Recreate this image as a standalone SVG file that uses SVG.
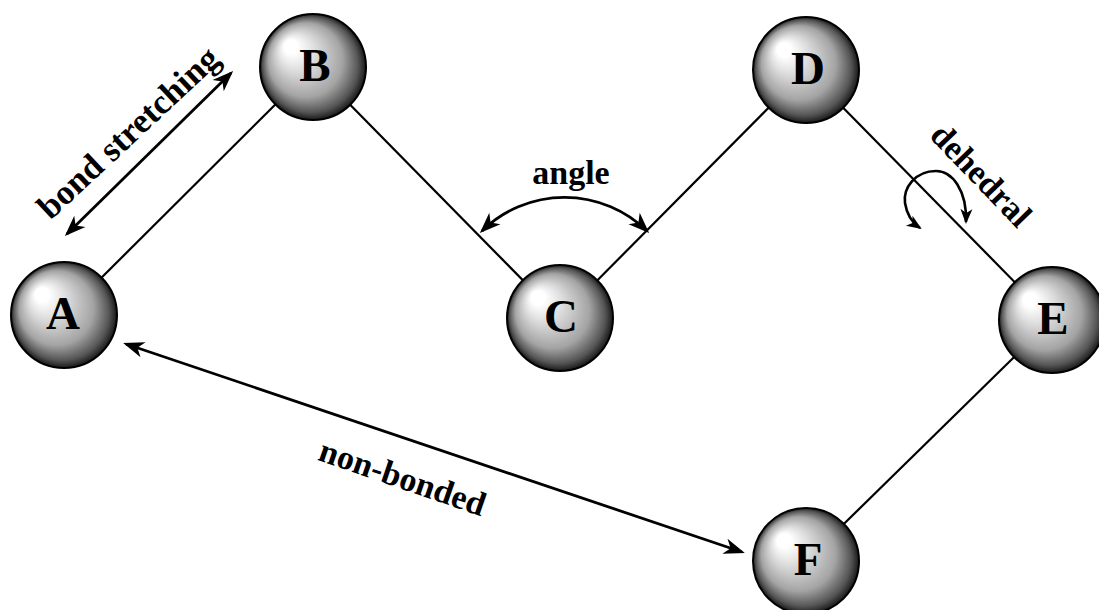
<svg xmlns="http://www.w3.org/2000/svg" width="1099" height="610" viewBox="0 0 1099 610">
<defs>
<radialGradient id="sph" cx="50%" cy="50%" r="50%" fx="26%" fy="28%">
<stop offset="0" stop-color="#ffffff"/>
<stop offset="0.13" stop-color="#ffffff"/>
<stop offset="0.35" stop-color="#dedede"/>
<stop offset="0.7" stop-color="#a4a4a4"/>
<stop offset="0.9" stop-color="#555555"/>
<stop offset="1" stop-color="#181818"/>
</radialGradient>
<marker id="ah" markerUnits="userSpaceOnUse" markerWidth="30" markerHeight="20" viewBox="-20 -10 30 20" refX="0" refY="0" orient="auto-start-reverse">
<path d="M3,0 L-18,-8 L-12,0 L-18,8 Z" fill="#000"/>
</marker>
<marker id="ahs" markerUnits="userSpaceOnUse" markerWidth="24" markerHeight="16" viewBox="-16 -8 24 16" refX="0" refY="0" orient="auto-start-reverse">
<path d="M2,0 L-13,-6 L-9,0 L-13,6 Z" fill="#000"/>
</marker>
</defs>
<style>
.bond{stroke:#000;stroke-width:2.2;fill:none}
.arr{stroke:#000;stroke-width:2.8;fill:none;marker-start:url(#ah);marker-end:url(#ah)}
.arrs{stroke:#000;stroke-width:2.6;fill:none;marker-start:url(#ahs);marker-end:url(#ahs)}
.ball{fill:url(#sph);stroke:#000;stroke-width:2}
.lbl{font-family:"Liberation Serif",serif;font-weight:bold;font-size:47px;text-anchor:middle;fill:#000}
.t{font-family:"Liberation Serif",serif;font-weight:bold;font-size:34px;text-anchor:middle;fill:#000}
</style>
<g id="connectors">
<line class="bond" x1="64" y1="315" x2="313" y2="67"/>
<line class="bond" x1="313" y1="67" x2="560" y2="318"/>
<line class="bond" x1="560" y1="318" x2="806" y2="70"/>
<line class="bond" x1="806" y1="70" x2="1052" y2="320"/>
<line class="bond" x1="1052" y1="320" x2="806" y2="561"/>
<line class="arr" x1="67" y1="234" x2="231" y2="73"/>
<path class="arr" d="M482,231 A118,118 0 0 1 647,231"/>
<line class="arr" x1="126" y1="344" x2="742" y2="552"/>
<path class="arrs" d="M966,222 C967,190 952,171 936,171 C915,171 903,188 905,203 C907,216 914,224 920,228"/>
</g>
<g id="label-bond-stretching"><text class="t" style="font-size:35px" transform="translate(136,141) rotate(-43)">bond stretching</text></g>
<g id="label-angle"><text class="t" x="571" y="184">angle</text></g>
<g id="label-dehedral"><text class="t" transform="translate(973,183) rotate(46)">dehedral</text></g>
<g id="label-non-bonded"><text class="t" transform="translate(399,488) rotate(19)">non-bonded</text></g>
<g id="node-A"><circle class="ball" cx="64" cy="315" r="53"/><text class="lbl" x="63" y="329">A</text></g>
<g id="node-B"><circle class="ball" cx="313" cy="67" r="53"/><text class="lbl" x="315" y="81">B</text></g>
<g id="node-C"><circle class="ball" cx="560" cy="318" r="53"/><text class="lbl" x="561" y="332">C</text></g>
<g id="node-D"><circle class="ball" cx="806" cy="70" r="53"/><text class="lbl" x="808" y="84">D</text></g>
<g id="node-E"><circle class="ball" cx="1052" cy="320" r="53"/><text class="lbl" x="1053" y="334">E</text></g>
<g id="node-F"><circle class="ball" cx="806" cy="561" r="53"/><text class="lbl" x="808" y="575">F</text></g>
</svg>
